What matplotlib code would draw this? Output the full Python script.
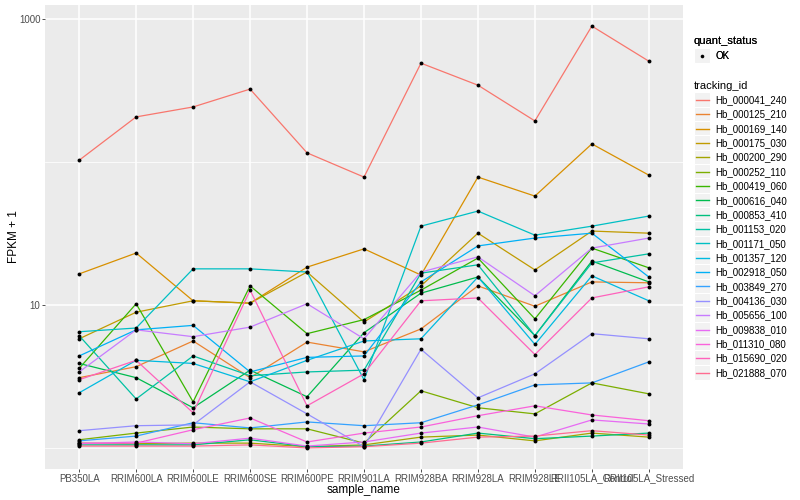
import matplotlib
matplotlib.use("Agg")
import matplotlib.pyplot as plt
from matplotlib.legend_handler import HandlerBase
from matplotlib.lines import Line2D
from matplotlib.patches import Rectangle
from matplotlib.ticker import FixedLocator, NullFormatter

plt.rcParams['font.family'] = ['Liberation Sans', 'DejaVu Sans']

samples = ["PB350LA", "RRIM600LA", "RRIM600LE", "RRIM600SE", "RRIM600PE", "RRIM901LA",
           "RRIM928BA", "RRIM928LA", "RRIM928LE", "RRII105LA_Control", "RRII105LA_Stressed"]

tracking_ids = ["Hb_000041_240", "Hb_000125_210", "Hb_000169_140", "Hb_000175_030",
                "Hb_000200_290", "Hb_000252_110", "Hb_000419_060", "Hb_000616_040",
                "Hb_000853_410", "Hb_001153_020", "Hb_001171_050", "Hb_001357_120",
                "Hb_002918_050", "Hb_003849_270", "Hb_004136_030", "Hb_005656_100",
                "Hb_009838_010", "Hb_011310_080", "Hb_015690_020", "Hb_021888_070"]

# FPKM + 1, one list per gene, in sample order
hb_000041_240 = [103, 207, 243, 324, 116, 78.5, 492, 345, 194, 894, 508]
hb_000125_210 = [3.1, 3.7, 5.6, 3.1, 5.5, 4.7, 6.8, 13.6, 9.8, 14.5, 14.3]
hb_000169_140 = [16.5, 23.1, 10.7, 10.3, 18.4, 24.7, 16.2, 78.5, 57.8, 134, 81]
hb_000175_030 = [5.8, 8.9, 10.7, 10.3, 17.0, 7.6, 13.6, 31.8, 17.6, 32.9, 31.8]
hb_000200_290 = [1.08, 1.07, 1.08, 1.08, 1.02, 1.05, 1.19, 1.23, 1.12, 1.27, 1.19]
hb_000252_110 = [1.14, 1.27, 1.40, 1.36, 1.36, 1.08, 2.51, 1.91, 1.73, 2.85, 2.39]
hb_000419_060 = [3.6, 10.2, 2.10, 13.6, 6.3, 7.9, 12.7, 21.3, 8.0, 25.0, 18.2]
hb_000616_040 = [3.9, 3.1, 1.91, 3.5, 2.28, 6.4, 12.1, 15.7, 6.1, 20.3, 14.5]
hb_000853_410 = [1.05, 1.05, 1.05, 1.14, 1.02, 1.03, 1.10, 1.27, 1.16, 1.21, 1.27]
hb_001153_020 = [6.1, 2.20, 4.4, 3.2, 3.4, 3.5, 16.7, 19.1, 6.1, 19.7, 22.8]
hb_001171_050 = [6.5, 6.9, 17.9, 17.9, 17.0, 3.0, 35.6, 45.4, 30.8, 35.6, 41.9]
hb_001357_120 = [2.43, 4.1, 3.9, 2.9, 4.1, 5.6, 5.8, 15.7, 5.3, 16.0, 10.7]
hb_002918_050 = [4.4, 6.7, 7.2, 3.4, 4.3, 4.4, 14.5, 25.9, 29.4, 31.8, 15.7]
hb_003849_270 = [1.12, 1.21, 1.50, 1.38, 1.52, 1.43, 1.50, 2.00, 2.76, 2.85, 4.0]
hb_004136_030 = [1.32, 1.43, 1.45, 2.9, 1.73, 1.02, 4.9, 2.24, 3.3, 6.3, 5.8]
hb_005656_100 = [3.4, 6.7, 6.0, 7.0, 10.2, 5.8, 17.0, 21.7, 11.6, 25.0, 29.4]
hb_009838_010 = [1.07, 1.10, 1.07, 1.17, 1.03, 1.10, 1.27, 1.40, 1.19, 1.57, 1.47]
hb_011310_080 = [1.08, 1.08, 1.34, 1.62, 1.10, 1.27, 1.40, 1.68, 1.97, 1.70, 1.55]
hb_015690_020 = [3.0, 4.1, 1.76, 12.7, 1.97, 3.3, 10.7, 11.2, 4.5, 11.2, 13.4]
hb_021888_070 = [1.03, 1.03, 1.03, 1.05, 1.00, 1.02, 1.08, 1.19, 1.21, 1.32, 1.23]

series = [hb_000041_240, hb_000125_210, hb_000169_140, hb_000175_030, hb_000200_290,
          hb_000252_110, hb_000419_060, hb_000616_040, hb_000853_410, hb_001153_020,
          hb_001171_050, hb_001357_120, hb_002918_050, hb_003849_270, hb_004136_030,
          hb_005656_100, hb_009838_010, hb_011310_080, hb_015690_020, hb_021888_070]

# ggplot default hue palette for 20 levels
colors = ["#F8766D", "#EA8331", "#D89000", "#C09B00", "#A3A500", "#7CAE00", "#39B600",
          "#00BB4E", "#00BF7D", "#00C1A3", "#00BFC4", "#00BAE0", "#00B0F6", "#35A2FF",
          "#9590FF", "#C77CFF", "#E76BF3", "#FA62DB", "#FF62BC", "#FF6C91"]


class KeyHandler(HandlerBase):
    """grey ggplot-style key box with a line or point in the middle"""
    def create_artists(self, legend, orig_handle, xdescent, ydescent, width, height, fontsize, trans):
        x0, y0 = -xdescent, -ydescent
        bg = Rectangle((x0, y0 - 2), width, height + 4, facecolor="#F2F2F2", edgecolor="white",
                       lw=0.8, transform=trans)
        ym = y0 + height / 2
        if orig_handle.get_linestyle() in ("None", "none", ""):
            art = Line2D([x0 + width / 2], [ym], marker="o", ls="None", color="black",
                         markersize=2.6, markeredgewidth=0, transform=trans)
        else:
            art = Line2D([x0 + width * 0.1, x0 + width * 0.9], [ym, ym],
                         color=orig_handle.get_color(), lw=1.0, transform=trans)
        return [bg, art]


fig = plt.figure(figsize=(8, 5), dpi=100)
ax = fig.add_axes([45 / 800, 1 - 469 / 500, 638 / 800, 464 / 500])
ax.set_facecolor("#EBEBEB")
for s in ax.spines.values():
    s.set_visible(False)

xs = list(range(len(samples)))
line_handles = []
for tid, vals, c in zip(tracking_ids, series, colors):
    h, = ax.plot(xs, vals, color=c, lw=0.9, zorder=2, label=tid)
    line_handles.append(h)
for vals in series:
    ax.plot(xs, vals, ls="None", marker="o", color="black", markersize=2.8,
            markeredgewidth=0, zorder=3)

ax.set_yscale("log")
ax.margins(y=0.05)
ax.set_xlim(-0.6, len(samples) - 0.4)
ax.yaxis.set_major_locator(FixedLocator([10, 1000]))
ax.yaxis.set_minor_locator(FixedLocator([1, 100]))
ax.yaxis.set_minor_formatter(NullFormatter())
ax.set_yticklabels(["10", "1000"])
ax.set_xticks(xs)
ax.set_xticklabels(samples)

ax.grid(which="major", color="white", lw=1.1, zorder=0)
ax.grid(which="minor", axis="y", color="white", lw=0.55, zorder=0)
ax.set_axisbelow(True)
ax.tick_params(axis="both", which="major", labelsize=7, labelcolor="#4D4D4D",
               color="#333333", length=2.5, width=0.6, pad=0.8)
ax.tick_params(axis="y", which="minor", length=0)

ax.set_xlabel("sample_name", fontsize=8.5, labelpad=0)
ax.set_ylabel("FPKM + 1", fontsize=8.5, labelpad=-1)

ok_handle = Line2D([], [], ls="None", marker="o", color="black")
leg1 = fig.legend([ok_handle], ["OK"], loc="upper left", bbox_to_anchor=(690 / 800, 1 - 32 / 500),
                  title="quant_status", frameon=False, fontsize=7, title_fontsize=8,
                  handler_map={Line2D: KeyHandler()}, handlelength=1.7, handleheight=1.2,
                  handletextpad=0.5, borderaxespad=0, alignment="left")
leg2 = fig.legend(line_handles, tracking_ids, loc="upper left",
                  bbox_to_anchor=(690 / 800, 1 - 77 / 500),
                  title="tracking_id", frameon=False, fontsize=7, title_fontsize=8,
                  handler_map={Line2D: KeyHandler()}, handlelength=1.7, handleheight=1.2,
                  labelspacing=0.42, handletextpad=0.5, borderaxespad=0, alignment="left")
fig.add_artist(leg1)

fig.savefig("out.png", dpi=100)
